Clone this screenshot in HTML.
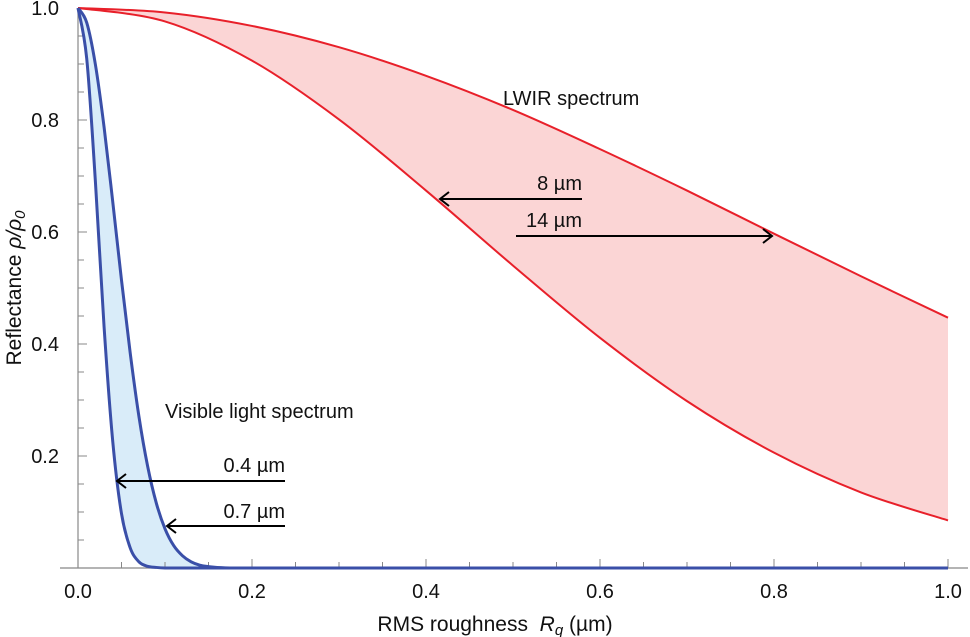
<!DOCTYPE html>
<html><head><meta charset="utf-8"><style>
body{margin:0;background:#fff}
svg{display:block;font-family:"Liberation Sans",sans-serif}
</style></head><body>
<svg id="chart" width="970" height="637"></svg>
<script>
const xLwir=[0,0.1,0.2,0.3,0.4,0.5,0.6,0.7,0.8,0.9,1.0];
const y8um=[1,0.976,0.906,0.801,0.674,0.540,0.411,0.298,0.206,0.135,0.085];
const y14um=[1,0.992,0.968,0.930,0.879,0.818,0.748,0.674,0.597,0.521,0.447];
const xVis=[0,0.01,0.02,0.03,0.04,0.05,0.06,0.07,0.08,0.09,0.10,0.11,0.12,0.13,0.14,0.15,0.16,0.18,0.2,0.5,1.0];
const y04um=[1,0.910,0.690,0.430,0.225,0.097,0.036,0.011,0.003,0.001,0,0,0,0,0,0,0,0,0,0,0];
const y07um=[1,0.974,0.899,0.787,0.653,0.514,0.384,0.271,0.182,0.116,0.070,0.040,0.022,0.011,0.005,0.0025,0.001,0,0,0,0];
const xTicks=[0,0.2,0.4,0.6,0.8,1.0];
const xTickLabels=["0.0","0.2","0.4","0.6","0.8","1.0"];
const yTicks=[0.2,0.4,0.6,0.8,1.0];
const yTickLabels=["0.2","0.4","0.6","0.8","1.0"];
const NS="http://www.w3.org/2000/svg";
const svg=document.getElementById('chart');
const X0=78,X1=948,Y0=568,Y1=8;
const sx=v=>X0+v*(X1-X0), sy=v=>Y0-v*(Y0-Y1);
function el(t,a,p){const e=document.createElementNS(NS,t);for(const k in a)e.setAttribute(k,a[k]);(p||svg).appendChild(e);return e;}
function pts(xs,ys){return xs.map((x,i)=>[sx(x),sy(ys[i])]);}
function smooth(p){let d="M"+p[0][0]+","+p[0][1];for(let i=0;i<p.length-1;i++){const p0=p[Math.max(i-1,0)],p1=p[i],p2=p[i+1],p3=p[Math.min(i+2,p.length-1)];
const c1=[p1[0]+(p2[0]-p0[0])/6,Math.min(Y0,p1[1]+(p2[1]-p0[1])/6)],c2=[p2[0]-(p3[0]-p1[0])/6,Math.min(Y0,p2[1]-(p3[1]-p1[1])/6)];
d+=` C${c1[0]},${c1[1]} ${c2[0]},${c2[1]} ${p2[0]},${p2[1]}`;}return d;}
function band(xs,ya,yb){const a=pts(xs,ya),b=pts(xs,yb).reverse();return smooth(a)+" L"+smooth(b).slice(1)+" Z";}
let e;
e=el('path',{d:band(xLwir,y14um,y8um),fill:'#fbd5d5',stroke:'none'});


e=el('path',{d:band(xVis,y07um,y04um),fill:'#d9ecf9',stroke:'none'});


e=el('line',{x1:60,y1:Y0,x2:X1+20,y2:Y0,stroke:'#888','stroke-width':1.2});


e=el('line',{x1:X0,y1:Y0,x2:X0,y2:Y1,stroke:'#888','stroke-width':1.2});


for(let i=1;i<=20;i++){const v=i*0.05,maj=i%4===0;
e=el('line',{x1:sx(v),y1:Y0,x2:sx(v),y2:Y0-(maj?9:6),stroke:'#888'});


e=el('line',{x1:X0,y1:sy(v),x2:X0+(maj?9:6),y2:sy(v),stroke:'#888'});

}
xTicks.forEach((v,i)=>{e=el('text',{x:sx(v),y:598,'font-size':20,'text-anchor':'middle',fill:'#111'});e.textContent=xTickLabels[i];

});
yTicks.forEach((v,i)=>{e=el('text',{x:59,y:sy(v)+7,'font-size':20,'text-anchor':'end',fill:'#111'});e.textContent=yTickLabels[i];

});
[[xLwir,y8um,'#e8202a','line-8um'],[xLwir,y14um,'#e8202a','line-14um'],[xVis,y04um,'#3a4fa8','line-0.4um'],[xVis,y07um,'#3a4fa8','line-0.7um']].forEach(s=>{
e=el('path',{d:smooth(pts(s[0],s[1])),fill:'none',stroke:s[2],'stroke-width':s[2]==='#3a4fa8'?3:2});

});
function arrow(x1,x2,y,name){const g=el('g',{stroke:'#000','stroke-width':2,fill:'none'});


el('line',{x1:x1,y1:y,x2:x2,y2:y},g);const d=x2<x1?9:-9;
el('polyline',{points:`${x2+d},${y-7} ${x2},${y} ${x2+d},${y+7}`},g);}
arrow(582,440,199,'arrow-8um');arrow(516,772,236,'arrow-14um');arrow(285,117,481,'arrow-0.4um');arrow(285,167,526,'arrow-0.7um');
function txt(x,y,s,name,anchor){e=el('text',{x:x,y:y,'font-size':20,fill:'#111','text-anchor':anchor||'start'});e.textContent=s;

}
txt(503,105,'LWIR spectrum','lwir-label');
txt(582,190,'8 µm','label-8um','end');
txt(582,227,'14 µm','label-14um','end');
txt(165,418,'Visible light spectrum','visible-label');
txt(285,472,'0.4 µm','label-0.4um','end');
txt(285,518,'0.7 µm','label-0.7um','end');
e=el('text',{x:495,y:631,'font-size':21,'text-anchor':'middle',fill:'#111'});
e.innerHTML='RMS roughness&#160;&#160;<tspan font-style="italic">R</tspan><tspan font-style="italic" font-size="15" dy="4">q</tspan><tspan dy="-4"> (µm)</tspan>';


e=el('text',{x:0,y:0,'font-size':21,'text-anchor':'middle',fill:'#111',transform:'translate(21,288) rotate(-90)'});
e.innerHTML='Reflectance <tspan font-style="italic">ρ/ρ</tspan><tspan font-style="italic" font-size="15" dy="4">0</tspan>';


</script>
</body></html>
